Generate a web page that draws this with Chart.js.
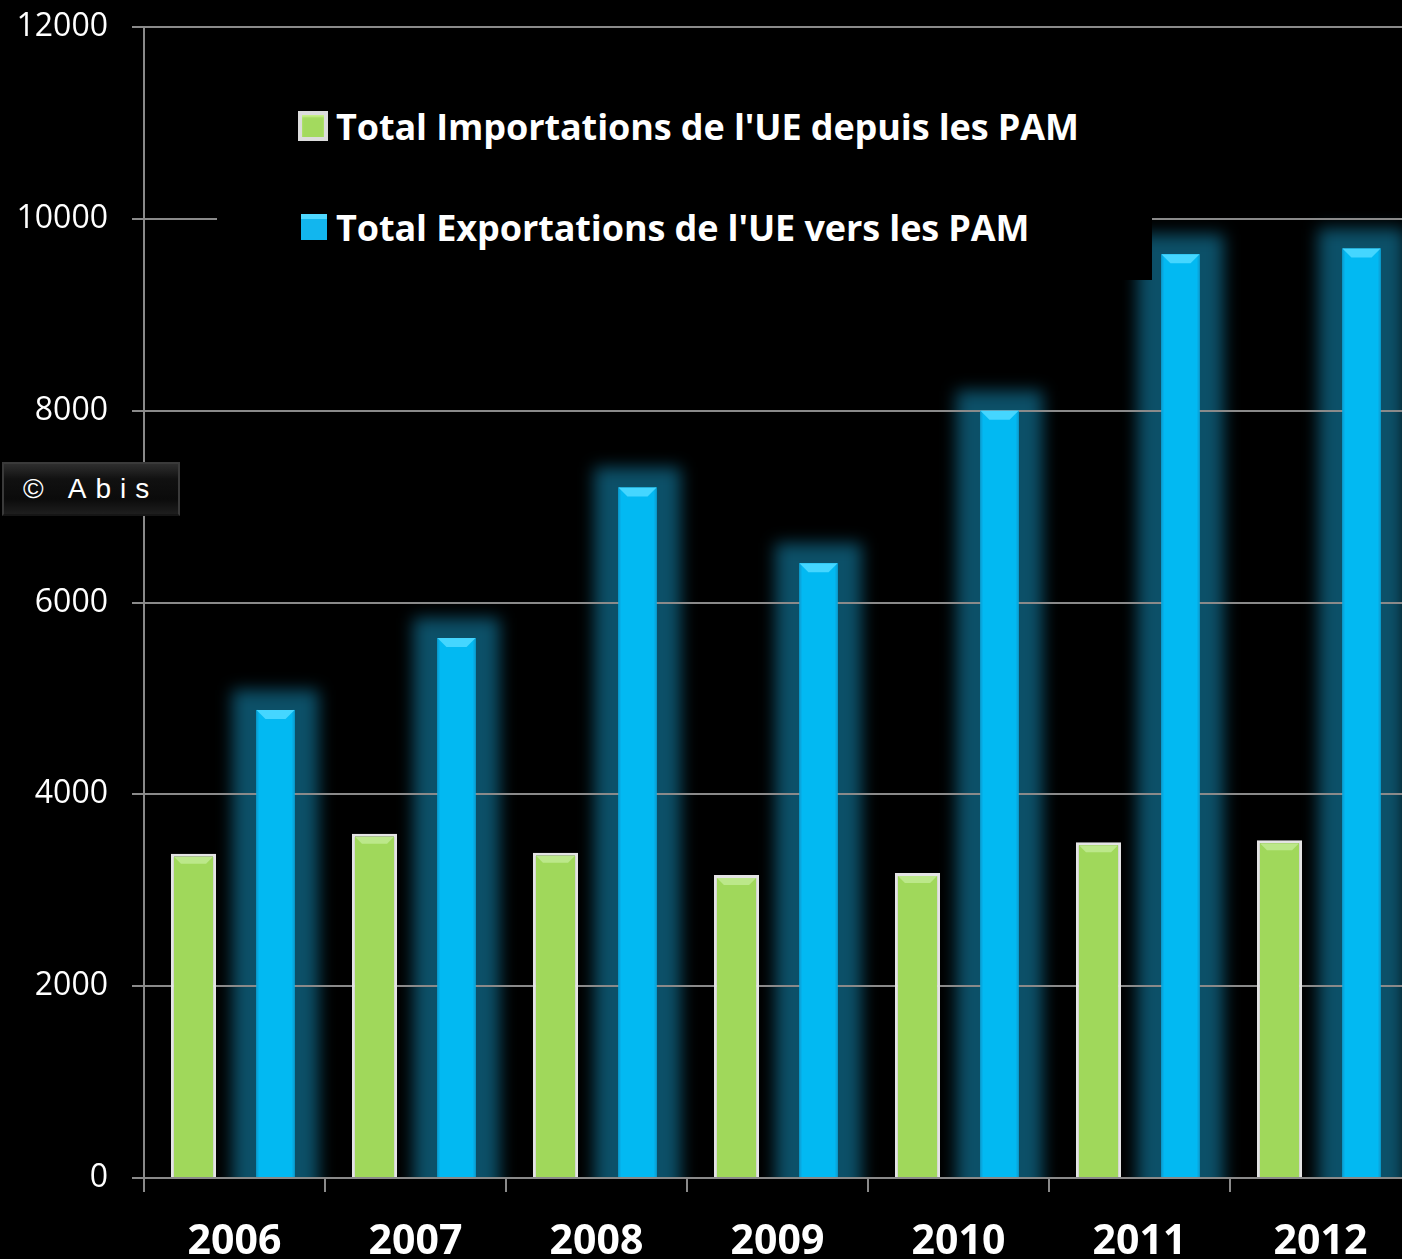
<!DOCTYPE html>
<html>
<head>
<meta charset="utf-8">
<script src="https://cdn.jsdelivr.net/npm/chart.js@4.4.1/dist/chart.umd.min.js"></script>
<style>
  html, body { margin: 0; padding: 0; background: #000; overflow: hidden; }
  #wrap { position: relative; width: 1412px; height: 1259px; }
  #legend {
    position: absolute; left: 217px; top: 62px; width: 935px; height: 218px;
    background: #000; color: #fff;
    font-family: 'Open Sans', sans-serif; font-weight: 700; font-size: 36px;
  }
  .item { position: absolute; left: 81px; height: 50px; display: flex; align-items: center; white-space: nowrap; letter-spacing: -0.1px; }
  .mark { box-sizing: border-box; margin-right: 8px; }
  .mark.green { width: 30px; height: 30px; background: #a3da5e; border: 4px solid #dcdcdc; box-shadow: inset 0 2px 2px #c8f08a; }
  .mark.blue { width: 26px; height: 26px; margin-left: 3px; margin-right: 9px; background: #12b6ee; box-shadow: inset 0 5px 0 #4fd8ff; }
  #abis {
    position: absolute; left: 2px; top: 462px; width: 178px; height: 54px; box-sizing: border-box;
    background: linear-gradient(#2e2e2e, #111 30%, #0b0b0b 70%, #1e1e1e);
    border: 2px solid #3a3a3a; border-bottom-color: #151515;
    color: #fff; font-family: 'Liberation Sans', sans-serif; font-size: 28px;
    letter-spacing: 9px; line-height: 50px; padding-left: 19px; white-space: nowrap;
  }
</style>
</head>
<body>
<div id="wrap">
  <canvas id="chart" width="1412" height="1259"></canvas>
  <div id="legend"></div>
  <div id="abis">© Abis</div>
</div>
<script>
// chart data
const years = ['2006', '2007', '2008', '2009', '2010', '2011', '2012'];
const importations = [3380, 3590, 3390, 3160, 3180, 3500, 3520];
const exportations = [4880, 5630, 7200, 6410, 8000, 9630, 9690];
const seriesNames = ["Total Importations de l'UE depuis les PAM", "Total Exportations de l'UE vers les PAM"];
const yTicks = [0, 2000, 4000, 6000, 8000, 10000, 12000];

// html legend
const legend = document.getElementById('legend');
const legendRows = [{ cls: 'green', top: 39 }, { cls: 'blue', top: 140 }];
seriesNames.forEach((name, i) => {
    const row = document.createElement('div');
    row.className = 'item';
    row.style.top = legendRows[i].top + 'px';
    const mark = document.createElement('span');
    mark.className = 'mark ' + legendRows[i].cls;
    const txt = document.createElement('span');
    txt.textContent = name;
    row.appendChild(mark);
    row.appendChild(txt);
    legend.appendChild(row);
});

// soft glow behind the blue bars, under the grid
const glowPlugin = {
    id: 'glow',
    beforeDraw(chart) {
        const ctx = chart.ctx;
        const area = chart.chartArea;
        const meta = chart.getDatasetMeta(1);
        ctx.save();
        ctx.beginPath();
        ctx.rect(area.left, 0, area.right - area.left, area.bottom);
        ctx.clip();
        ctx.filter = 'blur(8px)';
        ctx.fillStyle = '#0c5068';
        meta.data.forEach(bar => {
            const p = bar.getProps(['x', 'y', 'width', 'base'], true);
            ctx.fillRect(p.x - p.width / 2 - 24, p.y - 20, p.width + 48, p.base - p.y + 40);
        });
        ctx.restore();
    }
};

// bevel on top of bars
const bevelPlugin = {
    id: 'bevel',
    afterDatasetsDraw(chart) {
        const ctx = chart.ctx;
        ctx.save();
        chart.getDatasetMeta(1).data.forEach(bar => {
            const p = bar.getProps(['x', 'y', 'width', 'base'], true);
            const l = p.x - p.width / 2, r = p.x + p.width / 2;
            ctx.fillStyle = '#0aa6dc';
            ctx.fillRect(l, p.y, 2, p.base - p.y);
            ctx.fillRect(r - 2, p.y, 2, p.base - p.y);
            ctx.fillStyle = '#45d6ff';
            ctx.beginPath();
            ctx.moveTo(l, p.y);
            ctx.lineTo(r, p.y);
            ctx.lineTo(r - 9, p.y + 9);
            ctx.lineTo(l + 9, p.y + 9);
            ctx.closePath();
            ctx.fill();
        });
        chart.getDatasetMeta(0).data.forEach(bar => {
            const p = bar.getProps(['x', 'y', 'width', 'base'], true);
            const l = p.x - p.width / 2 + 3, r = p.x + p.width / 2 - 3;
            ctx.fillStyle = '#bce88a';
            ctx.beginPath();
            ctx.moveTo(l, p.y + 3);
            ctx.lineTo(r, p.y + 3);
            ctx.lineTo(r - 7, p.y + 10);
            ctx.lineTo(l + 7, p.y + 10);
            ctx.closePath();
            ctx.fill();
        });
        ctx.restore();
    }
};

const ctx = document.getElementById('chart').getContext('2d');
window.myChart = new Chart(ctx, {
    type: 'bar',
    data: {
        labels: years,
        datasets: [{
            label: seriesNames[0],
            data: importations,
            backgroundColor: '#a0d85b',
            borderColor: '#e4e4e4',
            borderWidth: 3,
            borderSkipped: 'bottom',
            barPercentage: 0.55,
            categoryPercentage: 0.906
        }, {
            label: seriesNames[1],
            data: exportations,
            backgroundColor: '#02b9f2',
            borderWidth: 0,
            barPercentage: 0.465,
            categoryPercentage: 0.906
        }]
    },
    options: {
        responsive: false,
        animation: false,
        layout: { padding: { top: 27, right: 1, left: 0, bottom: 0 } },
        plugins: {
            legend: { display: false },
            tooltip: { enabled: false }
        },
        scales: {
            x: {
                grid: {
                    offset: true,
                    drawOnChartArea: false,
                    drawTicks: true,
                    tickLength: 14,
                    color: '#8a8a8a',
                    lineWidth: 2
                },
                border: { color: '#8a8a8a', width: 2 },
                ticks: {
                    color: '#fff',
                    padding: 26,
                    font: { family: 'Open Sans', weight: 'bold', size: 41 }
                },
                afterFit(scale) { scale.height = 81; }
            },
            y: {
                min: 0,
                max: 12000,
                afterBuildTicks(scale) { scale.ticks = yTicks.map(v => ({ value: v })); },
                grid: {
                    color: '#8a8a8a',
                    lineWidth: 2,
                    tickLength: 12
                },
                border: { color: '#8a8a8a', width: 2 },
                ticks: {
                    color: '#fff',
                    padding: 24,
                    font: { family: 'Open Sans', size: 32 },
                    callback: v => String(v)
                },
                afterFit(scale) {
                    scale.width = 144;
                    scale.paddingTop = 0;
                    scale.paddingBottom = 0;
                }
            }
        }
    },
    plugins: [glowPlugin, bevelPlugin]
});
</script>
</body>
</html>
